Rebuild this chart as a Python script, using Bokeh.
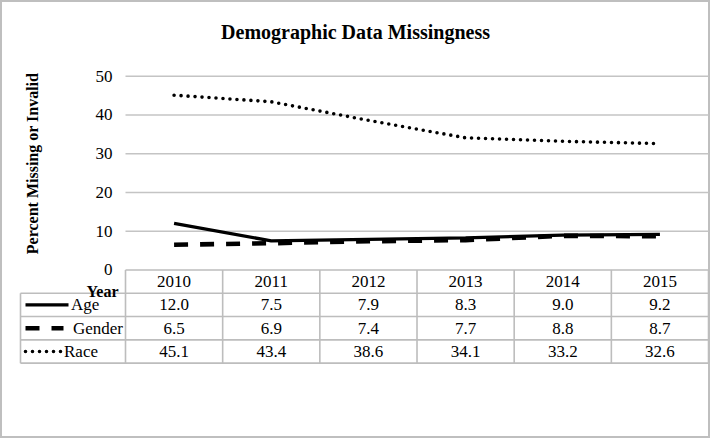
from bokeh.plotting import figure
from bokeh.models import Range1d
from bokeh.embed import file_html
from bokeh.resources import INLINE
from bokeh.core.properties import value
import math

# ---------------- data ----------------
title_text = "Demographic Data Missingness"
y_label = "Percent Missing or Invalid"
x_label = "Year"
years = ["2010", "2011", "2012", "2013", "2014", "2015"]
series_names = ["Age", "Gender", "Race"]
age = [12.0, 7.5, 7.9, 8.3, 9.0, 9.2]
gender = [6.5, 6.9, 7.4, 7.7, 8.8, 8.7]
race = [45.1, 43.4, 38.6, 34.1, 33.2, 32.6]
y_ticks = [0, 10, 20, 30, 40, 50]

# ---------------- layout / style ----------------
W, H = 710, 438
FONT = value("Liberation Serif")
GRID_C = "#c4c4c4"
TABLE_C = "#bdbdbd"
N = len(years)
RH = 6.013          # table row height (y units)
PX = 97.17          # pixels per category column
X0 = 125.0          # pixel x of first column's left edge
Y0 = 269.45         # pixel y of value 0
PY = 3.875          # pixels per percent


def xu(px):
    """pixel x -> category units"""
    return (px - X0) / PX


def yu(py):
    """pixel y -> value units"""
    return (Y0 - py) / PY


TABLE_LEFT = xu(20)

p = figure(width=W, height=H, output_backend="svg", toolbar_location=None,
           x_axis_type=None, y_axis_type=None,
           x_range=Range1d(xu(0), xu(W)), y_range=Range1d(yu(H), yu(0)),
           min_border=0, background_fill_color="white", border_fill_color="white")
p.title.visible = False
p.outline_line_color = "#bfbfbf"
p.outline_line_width = 3

styles = {
    "Age": dict(line_width=3.3, line_dash="solid"),
    "Gender": dict(line_width=4.6, line_dash="14 12"),
    "Race": dict(line_width=3.6, line_dash="0 7", line_cap="round"),
}
values_by_series = {"Age": age, "Gender": gender, "Race": race}

# gridlines
gy = [t for t in y_ticks if t > 0]
p.segment(x0=[0] * len(gy), x1=[N] * len(gy), y0=gy, y1=gy,
          line_color=GRID_C, line_width=1.4)

# table lines (horizontal)
nrows = len(series_names) + 1
hx0 = [0] + [TABLE_LEFT] * nrows
hy = [-(k) * RH for k in range(nrows + 1)]
p.segment(x0=hx0, x1=[N] * len(hy), y0=hy, y1=hy, line_color=TABLE_C, line_width=1.6)
# table lines (vertical)
vx = [TABLE_LEFT] + list(range(N + 1))
vy0 = [-RH] + [0] * (N + 1)
p.segment(x0=vx, x1=vx, y0=vy0, y1=[-nrows * RH] * len(vx),
          line_color=TABLE_C, line_width=1.6)

# series lines
xs = [i + 0.5 for i in range(N)]
for name in series_names:
    p.line(xs, values_by_series[name], line_color="black", **styles[name])

# y tick labels
p.text(x=[xu(112)] * len(y_ticks), y=y_ticks, text=[str(t) for t in y_ticks],
       text_font=FONT, text_font_size="17px", text_align="right",
       text_baseline="middle", text_color="black")

# y axis label
p.text(x=[xu(32)], y=[yu(163)], text=[y_label], angle=math.pi / 2,
       text_font=FONT, text_font_size="16px", text_font_style="bold",
       text_align="center", text_baseline="middle", text_color="black")

# title
p.text(x=[xu(355)], y=[yu(31)], text=[title_text],
       text_font=FONT, text_font_size="20px", text_font_style="bold",
       text_align="center", text_baseline="alphabetic", text_color="black")

# header row
p.text(x=xs, y=[-0.5 * RH] * N, text=years, text_font=FONT, text_font_size="17px",
       text_align="center", text_baseline="middle", text_color="black")
p.text(x=[xu(118)], y=[yu(291)], text=[x_label], text_font=FONT,
       text_font_size="16px", text_font_style="bold", text_align="right",
       text_baseline="alphabetic", text_color="black")

# data cells
cx, cy, ct = [], [], []
for k, name in enumerate(series_names):
    for i, v in enumerate(values_by_series[name]):
        cx.append(xs[i])
        cy.append(-(k + 1.5) * RH)
        ct.append(f"{v:.1f}")
p.text(x=cx, y=cy, text=ct, text_font=FONT, text_font_size="17px",
       text_align="center", text_baseline="middle", text_color="black")

# legend keys + row labels
key_end = {"Age": 68, "Gender": 63, "Race": 60.5}
label_left = {"Age": 70.5, "Gender": 72.5, "Race": 63.5}
for k, name in enumerate(series_names):
    yk = -(k + 1.5) * RH
    p.line([xu(25), xu(key_end[name])], [yk, yk], line_color="black", **styles[name])
    p.text(x=[xu(label_left[name])], y=[yk], text=[name], text_font=FONT,
           text_font_size="17px", text_align="left", text_baseline="middle",
           text_color="black")

open("out.html", "w").write(file_html(p, INLINE))
